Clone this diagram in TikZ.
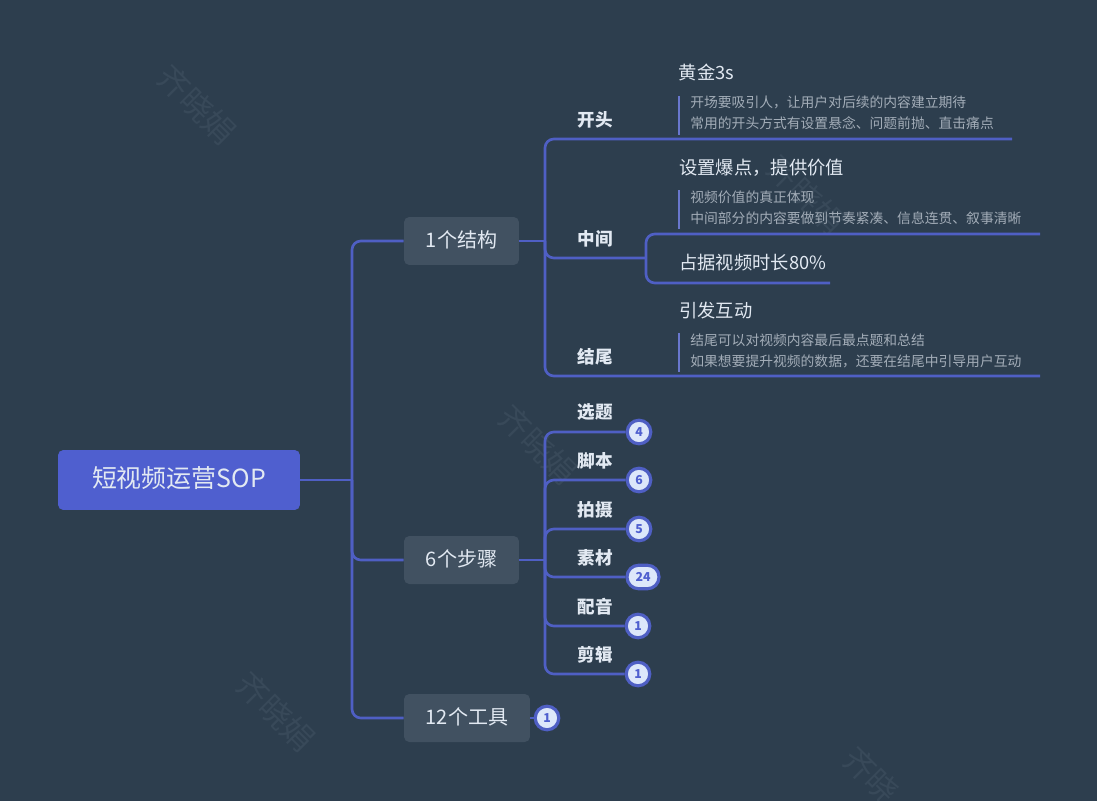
\documentclass[tikz,border=0pt]{standalone}
\usepackage{fontspec}
\setmainfont{Noto Sans CJK SC}
\usetikzlibrary{positioning}
\definecolor{bgdark}{HTML}{2D3E4E}
\definecolor{linkblue}{HTML}{4F5FC4}
\definecolor{rootblue}{HTML}{4F5FCF}
\definecolor{topicgrey}{HTML}{415161}
\definecolor{textlight}{HTML}{E2E9F2}
\definecolor{notegrey}{HTML}{A3ADB8}
\definecolor{badgefill}{HTML}{DDE7FA}
\definecolor{markgrey}{HTML}{384959}

\begin{document}
\begin{tikzpicture}[x=0.02cm, y=-0.02cm,
                link/.style={draw=linkblue, line width=1.5pt, rounded corners=5pt},
                root box/.style={fill=rootblue, rounded corners=3pt, text=textlight, font=\fontsize{14.2}{16}\selectfont, text height=11pt, text depth=1.9pt, minimum width=4.84cm, minimum height=1.2cm},
                topic box/.style={fill=topicgrey, rounded corners=3pt, text=textlight, font=\fontsize{11.4}{13}\selectfont, text height=9pt, text depth=1.5pt, minimum height=0.96cm},
                sub topic/.style={text=textlight, font=\fontsize{10}{12}\selectfont\bfseries, inner sep=0pt},
                leaf/.style={anchor=west, text=textlight, font=\fontsize{10.4}{12}\selectfont, inner sep=0pt},
                note/.style={anchor=west, text=notegrey, font=\fontsize{7.85}{12}\selectfont, inner sep=0pt},
                note bar/.style={draw=linkblue!85!white, line width=1.5pt},
                badge/.style={fill=badgefill, draw=linkblue, line width=1.8pt, text=rootblue, font=\fontsize{7}{8}\selectfont\bfseries, inner sep=0pt, minimum height=0.47cm, minimum width=0.47cm, rounded corners=6.6pt},
                water mark/.style={text=markgrey, rotate=-45, font=\fontsize{18}{20}\selectfont}]
                % Background and watermarks
                \useasboundingbox (0,0) rectangle (1097,800);
                \fill[bgdark] (-10,-10) rectangle (1107,810);
                \node[water mark] (markA) at (197,105) {齐晓娟};
                \node[water mark] (markB) at (538,445) {齐晓娟};
                \node[water mark] (markC) at (276,712) {齐晓娟};
                \node[water mark] (markD) at (806,195) {齐晓娟};
                \node[water mark] (markE) at (871,775) {齐晓};

                % Root and main topics
                \node[root box] (root) at (179,480) {短视频运营SOP};
                \node[topic box, minimum width=2.3cm] (structure) at (461.5,241) {1个结构};
                \node[topic box, minimum width=2.3cm] (steps) at (461.5,560) {6个步骤};
                \node[topic box, minimum width=2.52cm] (tools) at (467,718) {12个工具};
                \coordinate (rootHub) at (352,480);
                \draw[link] (root.east) -- (rootHub);
                \draw[link] (rootHub) |- (structure.west);
                \draw[link] (rootHub) |- (steps.west);
                \draw[link] (rootHub) |- (tools.west);

                % 1个结构 branch
                \coordinate (structHub) at (545,241);
                \coordinate (openEnd) at (1012,139);
                \coordinate (midBranch) at (646,258);
                \coordinate (closeEnd) at (1040,376);
                \draw[link] (structure.east) -- (structHub);
                \draw[link] (structHub) |- (openEnd);
                \draw[link] (structHub) |- (midBranch);
                \draw[link] (structHub) |- (closeEnd);
                \node[sub topic] (open) at (595,120) {开头};
                \node[sub topic] (middle) at (595,239) {中间};
                \node[sub topic] (close) at (595,357) {结尾};

                \coordinate (valueEnd) at (1040,234);
                \coordinate (shareEnd) at (830,283);
                \draw[link] (midBranch) |- (valueEnd);
                \draw[link] (midBranch) |- (shareEnd);

                % Leaves of the three parts
                \node[leaf] (gold) at (678.5,73) {黄金3s};
                \node[note] (goldA) at (690,102) {开场要吸引人，让用户对后续的内容建立期待};
                \node[note] (goldB) at (690,123) {常用的开头方式有设置悬念、问题前抛、直击痛点};
                \draw[note bar] (679,96) -- (679,135);

                \node[leaf] (value) at (679,168) {设置爆点，提供价值};
                \node[note] (valueA) at (690,197) {视频价值的真正体现};
                \node[note] (valueB) at (690,218) {中间部分的内容要做到节奏紧凑、信息连贯、叙事清晰};
                \draw[note bar] (679,190) -- (679,229);

                \node[leaf] (share) at (679,263) {占据视频时长80\%};

                \node[leaf] (interact) at (679,311) {引发互动};
                \node[note] (interactA) at (690,340) {结尾可以对视频内容最后最点题和总结};
                \node[note] (interactB) at (690,361) {如果想要提升视频的数据，还要在结尾中引导用户互动};
                \draw[note bar] (679,333) -- (679,372);

                % 6个步骤 branch
                \coordinate (stepHub) at (545,560);
                \draw[link] (steps.east) -- (stepHub);
                \foreach \name/\label/\count/\ypos/\xpos/\wide in {pick/选题/4/432/639/0.47, script/脚本/6/480/639/0.47, shoot/拍摄/5/529/639/0.47, stock/素材/24/577/643/0.64, voice/配音/1/626/638/0.47, edit/剪辑/1/674/638/0.47} {
                    \node[badge, minimum width=\wide cm] (\name Count) at (\xpos,\ypos) {\count};
                    \draw[link] (stepHub) |- (\name Count.west);
                    \node[sub topic] (\name) at (595,\ypos-19.5) {\label};
                }

                % 12个工具 badge
                \node[badge] (toolCount) at (547,718) {1};
                \draw[link] (tools.east) -- (toolCount.west);
            \end{tikzpicture}
\end{document}
